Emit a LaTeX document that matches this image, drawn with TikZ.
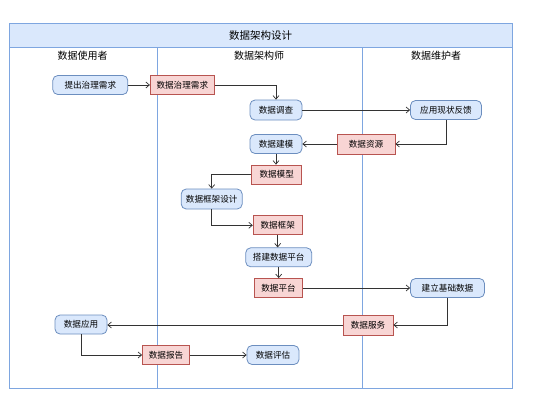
\documentclass[tikz,border=0pt]{standalone}
\usepackage{fontspec}
\setmainfont{Noto Sans CJK SC}
\usetikzlibrary{arrows.meta}
\definecolor{bfill}{HTML}{DAE8FC}
\definecolor{bline}{HTML}{6C8EBF}
\definecolor{rfill}{HTML}{F8D5D4}
\definecolor{rline}{HTML}{B85450}
\definecolor{lane}{HTML}{7EA6E0}
\definecolor{arr}{HTML}{333333}
\tikzset{
  act/.style={draw=bline, fill=bfill, line width=0.8pt, rounded corners=5pt, minimum height=19pt, inner sep=0pt, font=\fontsize{8.6pt}{10pt}\selectfont},
  obj/.style={draw=rline, fill=rfill, line width=0.8pt, minimum height=19pt, inner sep=0pt, font=\fontsize{8.6pt}{10pt}\selectfont},
  flow/.style={draw=arr, line width=0.7pt, -{Straight Barb[length=3.5pt,width=6pt]}},
  lanehead/.style={font=\fontsize{10pt}{12pt}\selectfont, inner sep=0pt}
}
\begin{document}
\begin{tikzpicture}[x=1pt,y=-1pt]
\useasboundingbox (0,0) rectangle (554,408);
% frame
\fill[bfill] (9,23) rectangle (512,47.3);
\draw[lane, line width=0.8pt] (9,23) rectangle (512,388);
\draw[lane, line width=0.8pt] (9,47.3) -- (512,47.3);
\draw[lane, line width=0.8pt] (157.7,47.3) -- (157.7,388);
\draw[lane, line width=0.8pt] (362,47.3) -- (362,388);
\node[lanehead, font=\fontsize{10.5pt}{12pt}\selectfont] (title) at (260.5,35.5) {数据架构设计};
\node[lanehead] (h1) at (82.7,55.7) {数据使用者};
\node[lanehead] (h2) at (259,55.7) {数据架构师};
\node[lanehead] (h3) at (436,55.7) {数据维护者};
% nodes
\node[act, minimum width=75pt] (n1) at (90.3,85) {提出治理需求};
\node[obj, minimum width=64pt] (n2) at (182.3,85.3) {数据治理需求};
\node[act, minimum width=52pt, minimum height=20pt] (n3) at (276,110) {数据调查};
\node[act, minimum width=71pt] (n4) at (446,110) {应用现状反馈};
\node[act, minimum width=52pt] (n5) at (276,144) {数据建模};
\node[obj, minimum width=58pt, minimum height=20pt] (n6) at (366,144) {数据资源};
\node[obj, minimum width=50pt] (n7) at (276.7,174.5) {数据模型};
\node[act, minimum width=61pt, minimum height=20pt] (n8) at (211.7,199) {数据框架设计};
\node[obj, minimum width=49pt] (n9) at (277.7,225.3) {数据框架};
\node[act, minimum width=66pt] (n10) at (278.7,257.3) {搭建数据平台};
\node[obj, minimum width=48pt] (n11) at (278.5,288) {数据平台};
\node[act, minimum width=74pt] (n12) at (447.5,288) {建立基础数据};
\node[act, minimum width=52pt] (n13) at (81,324.5) {数据应用};
\node[obj, minimum width=50pt, minimum height=20pt] (n14) at (368,325) {数据服务};
\node[obj, minimum width=47pt] (n15) at (166,355) {数据报告};
\node[act, minimum width=52pt] (n16) at (273,355) {数据评估};
% connectors
\draw[flow] (n1.east) -- (n1.east -| n2.west);
\draw[flow] (n2.east) -| (n3.north);
\draw[flow] (n3.east) -- (n3.east -| n4.west);
\draw[flow] (n4.south) |- (n6.east);
\draw[flow] (n6.west) -- (n6.west -| n5.east);
\draw[flow] (n5.south) -- (n5.south |- n7.north);
\draw[flow] (n7.west) -| (n8.north);
\draw[flow] (n8.south) |- (n9.west);
\draw[flow] (n9.south) -- (n9.south |- n10.north);
\draw[flow] (n10.south) -- (n10.south |- n11.north);
\draw[flow] (n11.east) -- (n11.east -| n12.west);
\draw[flow] (n12.south) |- (n14.east);
\draw[flow] (n14.west) -- (n14.west -| n13.east);
\draw[flow] (n13.south) |- (n15.west);
\draw[flow] (n15.east) -- (n15.east -| n16.west);
\end{tikzpicture}
\end{document}
